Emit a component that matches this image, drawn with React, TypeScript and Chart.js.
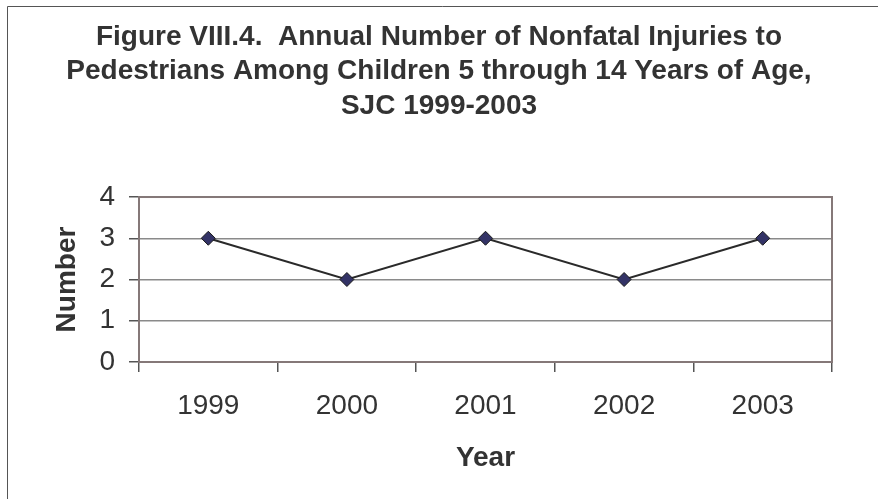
import React, { useEffect, useRef } from "react";
import { Chart, registerables } from "chart.js";

Chart.register(...registerables);

const years = ["1999", "2000", "2001", "2002", "2003"];
const injuries = [3, 2, 3, 2, 3];
const titleLines = [
  "Figure VIII.4.  Annual Number of Nonfatal Injuries to",
  "Pedestrians Among Children 5 through 14 Years of Age,",
  "SJC 1999-2003",
];
const xTitle = "Year";
const yTitle = "Number";
const yMin = 0;
const yMax = 4;
const yStep = 1;

const FONT = '"Liberation Sans", Arial, sans-serif';
const TEXT = "#333333";

const framePlugin = {
  id: "frames",
  beforeDatasetsDraw(chart: any) {
    const { ctx, chartArea } = chart;
    ctx.save();
    ctx.strokeStyle = "#857878";
    ctx.lineWidth = 2;
    ctx.strokeRect(chartArea.left, chartArea.top, chartArea.right - chartArea.left, chartArea.bottom - chartArea.top);
    ctx.restore();
  },
  afterDraw(chart: any) {
    const { ctx, width, height } = chart;
    ctx.save();
    ctx.strokeStyle = "#555555";
    ctx.lineWidth = 1;
    ctx.beginPath();
    ctx.moveTo(7.5, height);
    ctx.lineTo(7.5, 6.5);
    ctx.lineTo(width, 6.5);
    ctx.stroke();
    ctx.restore();
  },
};

export default function App() {
  const ref = useRef<HTMLCanvasElement | null>(null);

  useEffect(() => {
    if (!ref.current) return;
    const chart = new Chart(ref.current, {
      type: "line",
      data: {
        labels: years,
        datasets: [
          {
            data: injuries,
            yAxisID: "y",
            borderColor: "#2a2a2a",
            borderWidth: 2,
            pointStyle: "rectRot",
            pointRadius: 7,
            pointBackgroundColor: "#333366",
            pointBorderColor: "#1a1a1a",
            pointBorderWidth: 1,
            tension: 0,
            fill: false,
          },
        ],
      },
      options: {
        responsive: false,
        animation: false,
        layout: { padding: 0 },
        plugins: {
          legend: { display: false },
          tooltip: { enabled: false },
          title: {
            display: true,
            text: titleLines,
            color: TEXT,
            font: { family: FONT, size: 28, weight: "bold", lineHeight: 1.23 },
            padding: { top: 20, bottom: 73.7 },
          },
        },
        scales: {
          x: {
            type: "category",
            offset: true,
            afterFit: (s: any) => {
              s.height = 137;
            },
            grid: {
              offset: true,
              drawOnChartArea: false,
              drawTicks: true,
              tickLength: 10,
              color: "#555555",
              tickColor: "#555555",
              lineWidth: 1.5,
            },
            border: { display: true, color: "#857878", width: 2 },
            ticks: {
              color: TEXT,
              padding: 17,
              maxRotation: 0,
              font: { family: FONT, size: 28, lineHeight: 1.2 },
            },
            title: {
              display: true,
              text: xTitle,
              color: TEXT,
              font: { family: FONT, size: 28, weight: "bold", lineHeight: 1.2 },
              padding: { top: 18.8, bottom: 24 },
            },
          },
          y: {
            min: yMin,
            max: yMax,
            position: "left",
            afterFit: (s: any) => {
              s.width = 139;
            },
            grid: {
              drawTicks: true,
              tickLength: 10,
              color: "#8a8a8a",
              tickColor: "#555555",
              lineWidth: 1.5,
            },
            border: { display: true, color: "#857878", width: 2 },
            ticks: {
              stepSize: yStep,
              color: TEXT,
              padding: 14,
              font: { family: FONT, size: 28, lineHeight: 1.2 },
            },
            title: {
              display: true,
              text: yTitle,
              color: TEXT,
              font: { family: FONT, size: 28, weight: "bold", lineHeight: 1.2 },
              padding: { top: 50.2, bottom: 15.6 },
            },
          },
          yRight: {
            type: "linear",
            position: "right",
            display: true,
            min: yMin,
            max: yMax,
            afterFit: (s: any) => {
              s.width = 46;
            },
            grid: { display: false, drawTicks: false },
            border: { display: false },
            ticks: { display: false },
          },
        },
      },
      plugins: [framePlugin],
    });
    return () => chart.destroy();
  }, []);

  return (
    <div style={{ position: "fixed", left: 0, top: 0, width: 878, height: 499, background: "#ffffff" }}>
      <canvas ref={ref} width={878} height={499} style={{ display: "block", width: 878, height: 499 }} />
    </div>
  );
}
